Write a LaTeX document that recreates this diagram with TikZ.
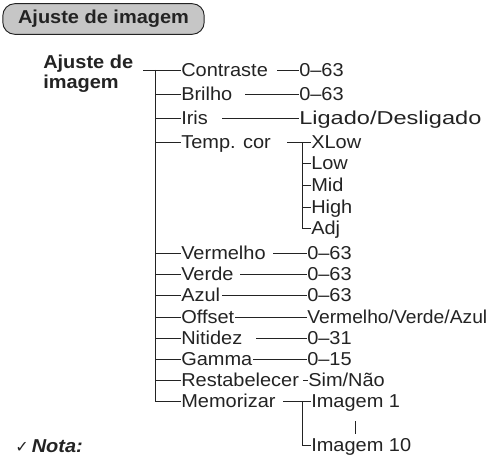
\documentclass[tikz,border=0pt]{standalone}
\usepackage{fontspec}
\setmainfont{Liberation Sans}[FakeStretch=1.07]
\newfontfamily\symfont{DejaVu Sans}
\usepackage{xcolor}
\usepackage{graphicx}
\usepackage{tikz}
\usetikzlibrary{positioning,backgrounds}
\pgfdeclarelayer{edgelayer}
\pgfdeclarelayer{nodelayer}
\pgfsetlayers{background,edgelayer,nodelayer,main}
\definecolor{titlegray}{RGB}{198,198,198}
\definecolor{inkgray}{RGB}{35,35,35}
\tikzstyle{none}=[inner sep=0mm]
\tikzstyle{every picture}=[x=0.75pt,y=-0.75pt]
\tikzstyle{item}=[inner sep=0pt,anchor=west,text height=10pt,text depth=0pt,font=\fontsize{14}{16}\selectfont,text=inkgray]
\tikzstyle{root}=[inner sep=0pt,anchor=north west,align=left,font=\fontsize{14}{15}\selectfont\bfseries,text=inkgray]
\tikzstyle{title}=[draw=inkgray,line width=0.7pt,fill=titlegray,rounded corners=9pt,minimum width=151pt,minimum height=23pt,inner sep=0pt,font=\fontsize{14}{16}\selectfont\bfseries,text=inkgray]
\tikzstyle{nota}=[inner sep=0pt,anchor=base west,font=\fontsize{14}{16}\selectfont,text=inkgray]
\tikzstyle{line}=[draw=inkgray,line width=0.6pt]
\begin{document}
\begin{tikzpicture}
	\useasboundingbox (0,0) rectangle (488,456);
	\begin{pgfonlayer}{nodelayer}
		\node [style=title] (ttl) at (103.5, 19) {Ajuste de imagem};
		\node [style=root] (rt) at (43, 55) {Ajuste de\\imagem};
		\node [style=none] (r0) at (143, 70) {};
		\node [style=none] (t0) at (155, 70) {};
		\node [style=none] (t1) at (155, 94) {};
		\node [style=none] (t2) at (155, 118) {};
		\node [style=none] (t3) at (155, 142) {};
		\node [style=none] (t4) at (155, 253) {};
		\node [style=none] (t5) at (155, 274) {};
		\node [style=none] (t6) at (155, 295) {};
		\node [style=none] (t7) at (155, 317) {};
		\node [style=none] (t8) at (155, 338) {};
		\node [style=none] (t9) at (155, 359) {};
		\node [style=none] (t10) at (155, 380) {};
		\node [style=none] (t11) at (155, 401) {};
		\node [style=item] (contr) at (181, 70) {Contraste};
		\node [style=item] (brilho) at (181, 94) {Brilho};
		\node [style=item] (iris) at (181, 118) {Iris};
		\node [style=item] (temp) at (181, 142) {Temp. cor};
		\node [style=item] (verm) at (181, 253) {Vermelho};
		\node [style=item] (verde) at (181, 274) {Verde};
		\node [style=item] (azul) at (181, 295) {Azul};
		\node [style=item] (offs) at (181, 317) {Offset};
		\node [style=item] (nitid) at (181, 338) {Nitidez};
		\node [style=item] (gamma) at (181, 359) {Gamma};
		\node [style=item] (restab) at (181, 380) {Restabelecer};
		\node [style=item] (memo) at (181, 401) {Memorizar};
		\node [style=none] (c1) at (277, 70) {};
		\node [style=none] (c2) at (245, 94) {};
		\node [style=none] (c3) at (222, 118) {};
		\node [style=none] (c4) at (287, 142) {};
		\node [style=none] (c5) at (273, 253) {};
		\node [style=none] (c6) at (240, 274) {};
		\node [style=none] (c7) at (222, 295) {};
		\node [style=none] (c8) at (235, 317) {};
		\node [style=none] (c9) at (256, 338) {};
		\node [style=none] (c10) at (253, 359) {};
		\node [style=none] (c11) at (303, 380) {};
		\node [style=none] (c12) at (283, 401) {};
		\node [style=item] (v1) at (299, 70) {0–63};
		\node [style=item] (v2) at (299, 94) {0–63};
		\node [style=item] (v3) at (299, 118) {\scalebox{1.18}[1]{Ligado/Desligado}};
		\node [style=item] (v5) at (307, 253) {0–63};
		\node [style=item] (v6) at (307, 274) {0–63};
		\node [style=item] (v7) at (307, 295) {0–63};
		\node [style=item] (v8) at (307, 317) {\scalebox{0.965}[1]{Vermelho/Verde/Azul}};
		\node [style=item] (v9) at (307, 338) {0–31};
		\node [style=item] (v10) at (307, 359) {0–15};
		\node [style=item] (v11) at (308, 380) {Sim/Não};
		\node [style=none] (k0) at (302, 142) {};
		\node [style=none] (k1) at (302, 163) {};
		\node [style=none] (k2) at (302, 185) {};
		\node [style=none] (k3) at (302, 207) {};
		\node [style=none] (k4) at (302, 228) {};
		\node [style=item] (xlow) at (311, 142) {XLow};
		\node [style=item] (low) at (311, 163) {Low};
		\node [style=item] (mid) at (311, 185) {Mid};
		\node [style=item] (high) at (311, 207) {High};
		\node [style=item] (adj) at (311, 228) {Adj};
		\node [style=none] (m0) at (302, 401) {};
		\node [style=none] (m1) at (302, 445) {};
		\node [style=item] (img1) at (311, 401) {Imagem 1};
		\node [style=item] (img10) at (311, 445) {Imagem 10};
		\node [style=none] (d0) at (355, 421) {};
		\node [style=none] (d1) at (355, 434) {};
		\node [style=nota] (nota) at (15, 452) {{\symfont\fontsize{12}{14}\selectfont ✓}\,\textbf{\textit{Nota:}}};
	\end{pgfonlayer}
	\begin{pgfonlayer}{edgelayer}
		\draw [style=line] (r0.center) to (contr);
		\draw [style=line] (t0.center) to (t11.center);
		\draw [style=line] (t1.center) to (brilho);
		\draw [style=line] (t2.center) to (iris);
		\draw [style=line] (t3.center) to (temp);
		\draw [style=line] (t4.center) to (verm);
		\draw [style=line] (t5.center) to (verde);
		\draw [style=line] (t6.center) to (azul);
		\draw [style=line] (t7.center) to (offs);
		\draw [style=line] (t8.center) to (nitid);
		\draw [style=line] (t9.center) to (gamma);
		\draw [style=line] (t10.center) to (restab);
		\draw [style=line] (t11.center) to (memo);
		\draw [style=line] (c1.center) to (v1);
		\draw [style=line] (c2.center) to (v2);
		\draw [style=line] (c3.center) to (v3);
		\draw [style=line] (c5.center) to (v5);
		\draw [style=line] (c6.center) to (v6);
		\draw [style=line] (c7.center) to (v7);
		\draw [style=line] (c8.center) to (v8);
		\draw [style=line] (c9.center) to (v9);
		\draw [style=line] (c10.center) to (v10);
		\draw [style=line] (c11.center) to (v11);
		\draw [style=line] (c4.center) to (xlow);
		\draw [style=line] (k0.center) to (k4.center);
		\draw [style=line] (k1.center) to (low);
		\draw [style=line] (k2.center) to (mid);
		\draw [style=line] (k3.center) to (high);
		\draw [style=line] (k4.center) to (adj);
		\draw [style=line] (c12.center) to (img1);
		\draw [style=line] (m0.center) to (m1.center);
		\draw [style=line] (m1.center) to (img10);
		\draw [style=line] (d0.center) to (d1.center);
	\end{pgfonlayer}
\end{tikzpicture}
\end{document}
